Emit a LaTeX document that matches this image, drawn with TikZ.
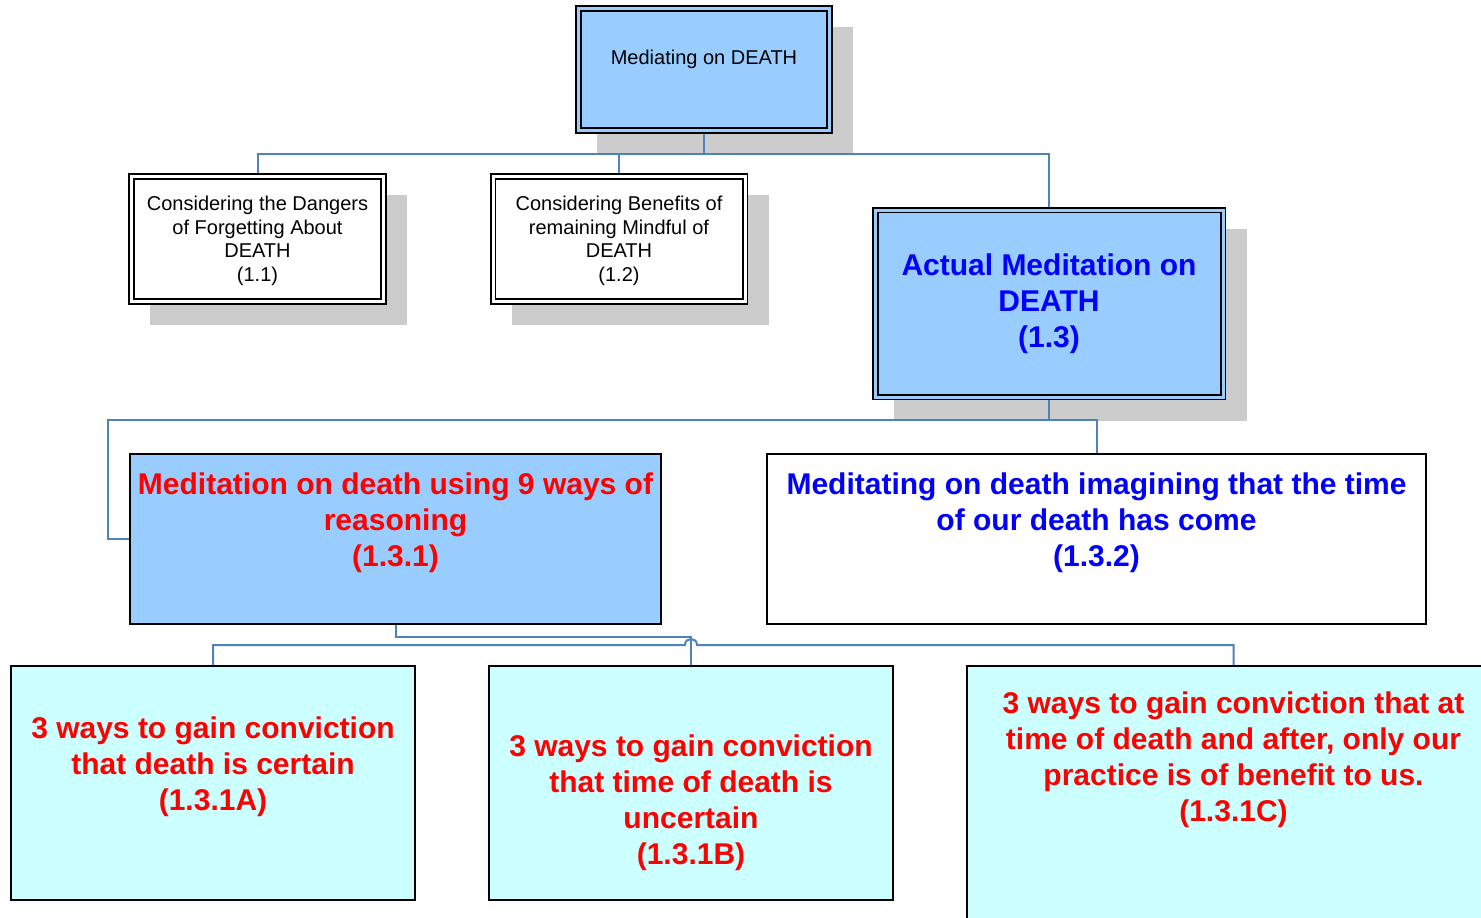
\documentclass[tikz,border=0pt]{standalone}
\usepackage{fontspec}
\setmainfont{Liberation Sans}
\usetikzlibrary{calc}
\definecolor{lblue}{RGB}{153,204,255}
\definecolor{lcyan}{RGB}{204,255,255}
\definecolor{conncol}{RGB}{79,129,189}
\definecolor{shadowc}{RGB}{204,204,204}
\definecolor{tblue}{RGB}{0,0,255}
\definecolor{tred}{RGB}{255,0,0}
\pgfdeclarelayer{shadowlayer}
\pgfdeclarelayer{linelayer}
\pgfsetlayers{shadowlayer,linelayer,main}
\begin{document}
\begin{tikzpicture}[x=1pt,y=-1pt,
  dbox/.style={draw=black, line width=1.7pt, double=#1, double distance=3pt, fill=#1, outer sep=0pt, inner sep=0pt},
  sbox/.style={draw=black, line width=2pt, fill=#1, outer sep=0pt, inner sep=0pt},
  small/.style={align=center, font=\fontsize{20}{23.5}\selectfont, inner sep=0pt},
  big/.style={align=center, font=\fontsize{30}{36}\selectfont\bfseries, inner sep=0pt, text=#1},
  conn/.style={draw=conncol, line width=2pt},
  shd/.style={fill=shadowc}
]
\useasboundingbox (0,0) rectangle (1481,918);

% boxes
\node[dbox=lblue, minimum width=251, minimum height=122] (T) at (704,69.5) {};
\node[dbox=white, minimum width=252, minimum height=125] (D) at (257.5,239) {};
\node[dbox=white, minimum width=252, minimum height=125] (E) at (619,239) {};
\node[dbox=lblue, minimum width=347.5, minimum height=187] (F) at (1049.25,303.5) {};
\node[sbox=lblue, minimum width=531, minimum height=170] (M1) at (395.5,539) {};
\node[sbox=white, minimum width=659, minimum height=170] (M2) at (1096.5,539) {};
\node[sbox=lcyan, minimum width=404, minimum height=234] (A) at (213,783) {};
\node[sbox=lcyan, minimum width=404, minimum height=234] (B) at (691,783) {};
\node[sbox=lcyan, minimum width=533, minimum height=284] (C) at (1233.5,808) {};

% texts
\node[small] (tT) at (704,59) {Mediating on DEATH};
\node[small] (tD) at (257.5,241) {Considering the Dangers\\of Forgetting About\\DEATH\\(1.1)};
\node[small] (tE) at (619,241) {Considering Benefits of\\remaining Mindful of\\DEATH\\(1.2)};
\node[big=tblue] (tF) at (1049,304) {Actual Meditation on\\DEATH\\(1.3)};
\node[big=tred] (tM1) at (395.5,523) {Meditation on death using 9 ways of\\reasoning\\(1.3.1)};
\node[big=tblue] (tM2) at (1096.5,523) {Meditating on death imagining that the time\\of our death has come\\(1.3.2)};
\node[big=tred] (tA) at (213,766.5) {3 ways to gain conviction\\that death is certain\\(1.3.1A)};
\node[big=tred] (tB) at (691,803) {3 ways to gain conviction\\that time of death is\\uncertain\\(1.3.1B)};
\node[big=tred] (tC) at (1233.5,760) {3 ways to gain conviction that at\\time of death and after, only our\\practice is of benefit to us.\\(1.3.1C)};

\coordinate (lk) at ($(M1.west)+(-22,0)$);
\coordinate (hy) at ($(A.north)+(0,-21)$);

\begin{pgfonlayer}{shadowlayer}
\fill[white] (0,0) rectangle (1481,918);
\foreach \n in {T,D,E,F}
  \fill[shd] ($(\n.north west)+(18.5,18.5)$) rectangle ($(\n.south east)+(23.5,23.5)$);
\end{pgfonlayer}

\begin{pgfonlayer}{linelayer}
\draw[conn] (T.south) -- ++(0,23.5) -| (D.north);
\draw[conn] (T.south) -- ++(0,23.5) -| (E.north);
\draw[conn] (T.south) -- ++(0,23.5) -| (F.north);
\draw[conn] (F.south) -- ++(0,23) -| (lk) -- (M1.west);
\draw[conn] (F.south) -- ++(0,23) -| (M2.north);
\draw[conn] (M1.south) -- ++(0,13) -| (B.north);
\draw[conn] (A.north) -- (hy) -- ($(B.north|-hy)+(-6,0)$) .. controls +(0,-8) and +(0,-8) .. ($(B.north|-hy)+(6,0)$) -| (C.north);
\end{pgfonlayer}
\end{tikzpicture}
\end{document}
